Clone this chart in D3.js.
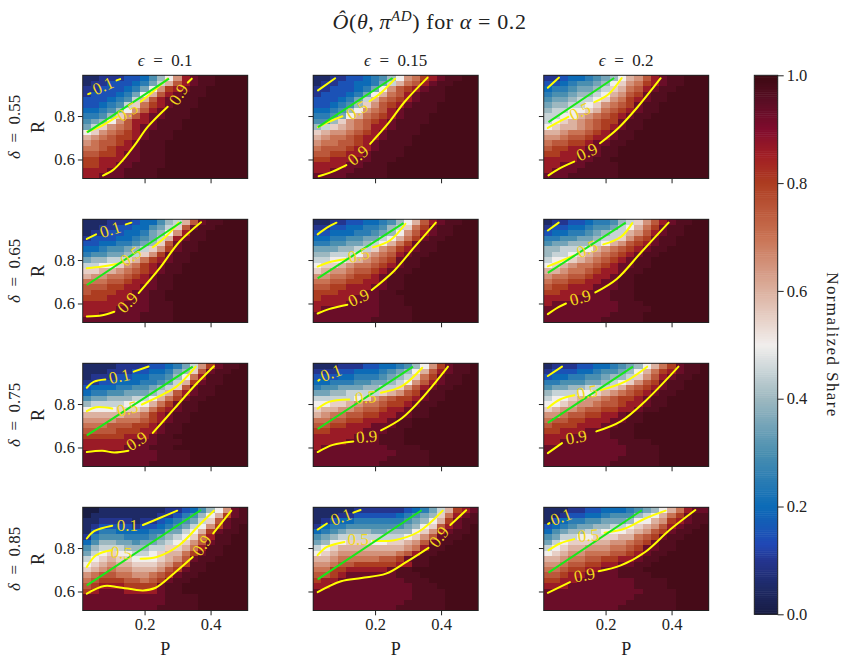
<!DOCTYPE html>
<html>
  <head>
    <meta charset="utf-8">
    <script src="https://d3js.org/d3.v7.min.js" charset="utf-8"></script>
    <style>
      body { margin: 0; background: white; }
      text { font-family: "Liberation Serif", serif; fill: #222; }
      .tick line, .spine { stroke: #222; }
    </style>
  </head>
  <body>
    <svg id="chart" width="848" height="662"></svg>
    <script>
      var pValues = [.025, .05, .075, .1, .125, .15, .175, .2, .225, .25, .275, .3, .325, .35, .375, .4, .425, .45, .475, .5];
      var rValues = [.975, .95, .925, .9, .875, .85, .825, .8, .775, .75, .725, .7, .675, .65, .625, .6, .575, .55, .525];
      var deltas = ["0.55", "0.65", "0.75", "0.85"];
      var epsilons = ["0.1", "0.15", "0.2"];
      var cbarTicks = [0, .2, .4, .6, .8, 1];

      // what each letter of the grids below stands for: 0 = 0, a = 0.5, k = the darkest end
      var shareLevels = [0, .05, .1, .15, .2, .25, .3, .35, .4, .45, .5, .55, .6, .65, .7, .75, .8, .86, .93, .965, .985];

      // share per cell, one letter per cell, top row first
      var shareD55E10 = ["1122233468adhijjkkkk","1223334579cfhijjkkkk","22333457adghijjkkkkk","2333457acfhijjjkkkkk","3334569cfhijjjkkkkkk","334569beghijjjkkkkkk","44568adfhijjjkkkkkkk","5568bdfhiijjjkkkkkkk","678adfhhijjjkkkkkkkk","79bdefhiijjjkkkkkkkk","abdefghijjjkkkkkkkkk","cdefgghijjjkkkkkkkkk","deffghijjjkkkkkkkkkk","eefghhijjjkkkkkkkkkk","ffgghiijjjkkkkkkkkkk","gghhhiijjjkkkkkkkkkk","gghhiijjjjkkkkkkkkkk","hhhiijjjjkkkkkkkkkkk","hhiiijjjjkkkkkkkkkkk"];
      var shareD55E15 = ["1122334568adeghijjkk","1223344579cefhijjkkk","22333457adfghijjkkkk","2333457acefhijjjkkkk","3334579cefghijjjkkkk","334568bdfghijjjkkkkk","44568adefhijjjjkkkkk","5567acefghijjjkkkkkk","668bdefghijjjjkkkkkk","89bcdefhhijjjkkkkkkk","bcddefghijjjjkkkkkkk","cdeefghhijjjkkkkkkkk","deeffghijjjjkkkkkkkk","efffghhijjjkkkkkkkkk","ffgghhijjjjkkkkkkkkk","gghhhiijjjkkkkkkkkkk","hhhhiijjjkkkkkkkkkkk","hhiiijjjjkkkkkkkkkkk","iiiijjjjjkkkkkkkkkkk"];
      var shareD55E20 = ["223445678acdfhijjkkk","33456678abdeghijjkkk","45567789bcefhijjkkkk","5667889acdfgijjkkkkk","677899abdeghijjkkkkk","78899abdefgijjkkkkkk","899aabcefghijjkkkkkk","99aacdefghijjkkkkkkk","9abcdefggijjkkkkkkkk","abccdefghijjkkkkkkkk","ccdeefghijjkkkkkkkkk","ddeffghhijjkkkkkkkkk","effgghiijjkkkkkkkkkk","fgghhiijjkkkkkkkkkkk","gghhiiijjkkkkkkkkkkk","hhhhiijjkkkkkkkkkkkk","hhiiijjjjkkkkkkkkkkk","hiiijjjjjkkkkkkkkkkk","iiijjjjjjkkkkkkkkkkk"];
      var shareD65E10 = ["111222344689cfijjkkk","11223344679bfijjkkkk","1223344578adhjjkkkkk","2333445679chijjkkkkk","334455678bfijjkkkkkk","44566789bdgijjkkkkkk","5667789bdgijjkkkkkkk","78899bceghijjkkkkkkk","99aabdeghijjkkkkkkkk","bbccdefghijjkkkkkkkk","cddeefghijjkkkkkkkkk","eeeffghhijjkkkkkkkkk","fffgghhiijjkkkkkkkkk","fggghhiijjkkkkkkkkkk","ggghhhiijjkkkkkkkkkk","hhhhhiiijjjkkkkkkkkk","hhhhiiiijjjkkkkkkkkk","hhiiiiijjjjkkkkkkkkk","iiiiiiijjjjkkkkkkkkk"];
      var shareD65E15 = ["11223344568acfhijjkk","22334455689begijjkkk","3344455678adfhijjkkk","445566779acegijjkkkk","55667789acegijjkkkkk","7778899bdeghijjkkkkk","88999acdefhijjkkkkkk","99aabcdefgijjkkkkkkk","abbcdeefghijjkkkkkkk","bcddeffghijjkkkkkkkk","ddeefgghijjkkkkkkkkk","eeffgghhijjkkkkkkkkk","ffgghhhiijjkkkkkkkkk","ggghhhiijjkkkkkkkkkk","ghhhhiiijjjkkkkkkkkk","hhhhiiiijjjkkkkkkkkk","hiiiiiiijjjjkkkkkkkk","iiiiiiiijjjjkkkkkkkk","iiiiiiijjjjjkkkkkkkk"];
      var shareD65E20 = ["12233455689bdfhijjkk","2334456679acegijjkkk","3445567899cdfhijjkkk","556677899bdfgijjkkkk","6778889acdfghijjkkkk","88999acdefghijjkkkkk","899abcdefghijjkkkkkk","9aabcdefghijjkkkkkkk","abcdeefghiijjkkkkkkk","ccdeefghhijjkkkkkkkk","deeffghhijjkkkkkkkkk","effgghhiijjkkkkkkkkk","fgghhhiiijjkkkkkkkkk","gghhhiiijjjkkkkkkkkk","hhhhiiiijjjkkkkkkkkk","hiiiiiiiijjjkkkkkkkk","iiiiiiiiijjjjkkkkkkk","iiiiiiiijjjjkkkkkkkk","iiiiiiijjjjjkkkkkkkk"];
      var shareD75E10 = ["11112222334579dgijjk","1112223344578bfijjkk","122233445568aehjjkkk","223344455679cgijjkkk","34445566789bfijjkkkk","4556677789cfhijjkkkk","67788899acegijjkkkkk","89999aaacegijjkkkkkk","aaaabbbceghijjkkkkkk","cccccddeghijjkkkkkkk","ddddeeefghijjkkkkkkk","eeefffgghijjkkkkkkkk","ffffggghhijjkkkkkkkk","ggggghhhijjkkkkkkkkk","hhhhhhiiijjjkkkkkkkk","hhhhhiiijjjkkkkkkkkk","iiiiiiiiijjjjkkkkkkk","iiiiiiiiijjjjkkkkkkk","iiiiiiiijjjjjkkkkkkk"];
      var shareD75E15 = ["1112223344568adgijjk","222334445678acfhijjk","333445556789begijjkk","44555667789adfhijjkk","5667778899bdfhijjkkk","77889999bcdfgijjkkkk","99999abdefgghijjkkkk","aabbcdeefgghijjkkkkk","bccddeffghhijjkkkkkk","cdeeffgghhiijjkkkkkk","eeffgghhhijjkkkkkkkk","ffgghhhiiijjkkkkkkkk","gghhhhiiijjkkkkkkkkk","hhhhhiiijjjkkkkkkkkk","hhhhiiiijjjkkkkkkkkk","hiiiiiiiijjjjkkkkkkk","iiiiiiiiiijjjjkkkkkk","iiiiiiiiijjjjjkkkkkk","iiiiiiiijjjjjjkkkkkk"];
      var shareD75E20 = ["122233445678acegijjk","23334456678aceghijjk","34455667889bdfhijjkk","556667789abdfgijjkkk","67788999bcefghijjkkk","8999aabcdefghijjkkkk","9aabcddefgghijjkkkkk","aabcddeffghhijjkkkkk","bcddeffgghhijjkkkkkk","ddeffgghhijjkkkkkkkk","effgghhhiijjkkkkkkkk","fggghhhiijjkkkkkkkkk","gghhhiiijjjkkkkkkkkk","hhhiiiiijjjkkkkkkkkk","hhiiiiiiijjjjkkkkkkk","iiiiiiiiiijjjjkkkkkk","iiiiiiiiiijjjjkkkkkk","iiiiiiiiijjjjjkkkkkk","iiiiiiiijjjjjjkkkkkk"];
      var shareD85E10 = ["0011111111223468adij","011111111223568acgij","112222122345679bfijj","12333323345679adgijk","1355444455779acgijjk","256665556789abehjjkk","46887767789abdfijjkk","6899988899bbcehjjkkk","79abaa99abccegijjkkk","9abcbbaaabcdfijjkkkk","abcdccbbbcdfgjjkkkkk","bcdeddcccdfgijjkkkkk","deffeeddefgijjkkkkkk","efgggffefgijjkkkkkkk","fghhhggggijjkkkkkkkk","ghiiihhhhijjkkkkkkkk","iiiiiiiiiijjjjkkkkkk","iiiiiiiiiijjjjkkkkkk","iiiiiiiiijjjjjkkkkkk"];
      var shareD85E15 = ["1111122222234579cghi","111223333345678behij","12344555555678acgijj","2455666666678abfhijk","456788877888abdhijjk","67899999999abdfijjkk","78aabbbaabbcdfijjkkk","9abccccccccdehjjkkkk","abcdddddddefhjjkkkkk","ccdeeeeeffgijjkkkkkk","ddeffggggghhjjkkkkkk","eegghhhhhijjkkkkkkkk","ffghiiiiiijjjkkkkkkk","ghhiiiiiiiijjjkkkkkk","hhiiiiiiiiiijjjkkkkk","iiiiiiiiiiiijjjjkkkk","iiiiiiiiiiiijjjjkkkk","iiiiiiiiiiijjjjjkkkk","iiiiiiiiiijjjjjjkkkk"];
      var shareD85E20 = ["11122334445678acehii","1123344566689acegijj","13455667778aacdghijj","3456778899abcdfhijjk","4678899aaabcdfgijjkk","6799aabbbccefgijjkkk","79abbbccddefgijjkkkk","9abccdddeefgiijjkkkk","abcddeeeffghijjkkkkk","ccdeeffgghhijjkkkkkk","ddeffgghhiijjkkkkkkk","eefgghhiijjjkkkkkkkk","ffghhiiiijjjjkkkkkkk","gghhiiiiiiijjjjkkkkk","hhhiiiiiiiijjjjkkkkk","iiiiiiiiiiiijjjjkkkk","iiiiiiiiiiijjjjjkkkk","iiiiiiiiiijjjjjjkkkk","iiiiiiiiijjjjjjjkkkk"];

      // contour pieces as [level, [[P, R], ...]], broken where the inline label sits
      var contoursD55E10 = [
        [.1, [[.029,.901],[.036,.905]]], [.1, [[.115,.964],[.126,.97]]],
        [.5, [[.026,.728],[.07,.755],[.116,.797]]], [.5, [[.188,.866],[.225,.912],[.27,.973]]],
        [.9, [[.074,.526],[.104,.551],[.134,.597],[.17,.666],[.21,.751],[.27,.843]]], [.9, [[.331,.954],[.343,.972]]]];
      var contoursD55E15 = [
        [.1, [[.027,.918],[.079,.974]]],
        [.5, [[.027,.749],[.064,.776],[.101,.799]]], [.5, [[.183,.868],[.22,.91],[.261,.972]]],
        [.9, [[.029,.523],[.069,.543],[.113,.574]]], [.9, [[.185,.672],[.241,.768],[.291,.868],[.359,.977]]]];
      var contoursD55E20 = [
        [.1, [[.025,.93],[.059,.977]]],
        [.5, [[.025,.745],[.052,.768],[.087,.796]]], [.5, [[.166,.864],[.208,.899],[.249,.975]]],
        [.9, [[.027,.527],[.057,.556],[.105,.59]]], [.9, [[.183,.675],[.239,.745],[.299,.845],[.367,.974]]]];
      var contoursD65E10 = [
        [.1, [[.025,.897],[.053,.918]]], [.1, [[.143,.964],[.16,.972]]],
        [.5, [[.025,.762],[.072,.77],[.115,.782],[.133,.79]]], [.5, [[.225,.859],[.268,.913],[.303,.972]]],
        [.9, [[.025,.54],[.072,.546],[.108,.562]]], [.9, [[.182,.648],[.244,.759],[.305,.883],[.371,.974]]]];
      var contoursD65E15 = [
        [.1, [[.026,.918],[.054,.949],[.083,.972]]],
        [.5, [[.026,.77],[.06,.79],[.116,.805]]], [.5, [[.194,.859],[.245,.89],[.292,.967]]],
        [.9, [[.026,.554],[.06,.574],[.116,.594]]], [.9, [[.19,.662],[.258,.751],[.319,.859],[.384,.972]]]];
      var contoursD65E20 = [
        [.1, [[.025,.936],[.058,.972]]],
        [.5, [[.025,.771],[.056,.79],[.105,.821]]], [.5, [[.193,.872],[.246,.906],[.281,.97]]],
        [.9, [[.025,.551],[.056,.582],[.08,.6]]], [.9, [[.169,.651],[.234,.713],[.308,.836],[.391,.972]]]];
      var contoursD75E10 = [
        [.1, [[.025,.875],[.047,.903],[.081,.913]]], [.1, [[.167,.949],[.212,.973]]],
        [.5, [[.025,.767],[.053,.785],[.102,.779]]], [.5, [[.192,.798],[.256,.844],[.299,.883],[.355,.972]]],
        [.9, [[.025,.579],[.072,.585],[.108,.577],[.151,.585]]], [.9, [[.225,.667],[.292,.782],[.355,.89],[.41,.974]]]];
      var contoursD75E15 = [
        [.1, [[.028,.908],[.032,.912]]],
        [.5, [[.026,.779],[.06,.81],[.122,.821]]], [.5, [[.218,.852],[.282,.883],[.343,.967]]],
        [.9, [[.026,.579],[.072,.612],[.134,.628]]], [.9, [[.218,.679],[.282,.736],[.343,.828],[.421,.972]]]];
      var contoursD75E20 = [
        [.1, [[.025,.929],[.068,.972]]],
        [.5, [[.025,.782],[.062,.821],[.105,.84]]], [.5, [[.185,.864],[.259,.903],[.326,.972]]],
        [.9, [[.025,.574],[.068,.62]]], [.9, [[.172,.674],[.246,.72],[.32,.813],[.421,.972]]]];
      var contoursD85E10 = [
        [.1, [[.025,.844],[.047,.878],[.102,.903]]], [.1, [[.195,.906],[.244,.937],[.299,.972]]],
        [.5, [[.025,.713],[.053,.767],[.1,.79]]], [.5, [[.188,.751],[.237,.759],[.305,.813],[.366,.906],[.41,.972]]],
        [.9, [[.025,.59],[.078,.625],[.121,.62],[.195,.605],[.232,.616],[.293,.689],[.346,.759]]], [.9, [[.408,.867],[.463,.972]]]];
      var contoursD85E15 = [
        [.1, [[.026,.885],[.054,.913]]], [.1, [[.134,.963],[.156,.975]]],
        [.5, [[.026,.767],[.054,.805],[.107,.828]]], [.5, [[.194,.833],[.258,.836],[.332,.875],[.405,.972]]],
        [.9, [[.026,.597],[.097,.647],[.159,.662],[.233,.682],[.295,.736],[.362,.801]]], [.9, [[.428,.906],[.476,.974]]]];
      var contoursD85E20 = [
        [.1, [[.026,.911],[.03,.915]]],
        [.5, [[.027,.79],[.062,.821],[.105,.841]]], [.5, [[.197,.87],[.259,.89],[.32,.936],[.382,.972]]],
        [.9, [[.025,.594],[.092,.643]]], [.9, [[.179,.693],[.246,.72],[.32,.782],[.394,.883],[.472,.975]]]];

      // inline labels as [text, P, R]
      var labelsD55E10 = [["0.1",.074,.94],["0.5",.148,.82],["0.9",.302,.90]];
      var labelsD55E15 = [["0.5",.145,.827],["0.9",.148,.62]];
      var labelsD55E20 = [["0.5",.122,.822],["0.9",.143,.636]];
      var labelsD65E10 = [["0.1",.096,.941],["0.5",.158,.818],["0.9",.148,.605]];
      var labelsD65E15 = [["0.5",.15,.824],["0.9",.15,.628]];
      var labelsD65E20 = [["0.5",.144,.852],["0.9",.123,.628]];
      var labelsD75E10 = [["0.1",.124,.929],["0.5",.148,.779],["0.9",.176,.631]];
      var labelsD75E15 = [["0.1",.066,.944],["0.5",.171,.832],["0.9",.174,.651]];
      var labelsD75E20 = [["0.5",.144,.855],["0.9",.111,.648]];
      var labelsD85E10 = [["0.1",.148,.906],["0.5",.13,.779],["0.9",.373,.813]];
      var labelsD85E15 = [["0.1",.097,.944],["0.5",.149,.841],["0.9",.393,.852]];
      var labelsD85E20 = [["0.1",.065,.944],["0.5",.148,.859],["0.9",.136,.677]];

      // green line end points, [[P, R], [P, R]]
      var greenD55 = [[[.026,.725],[.274,.972]], [[.027,.749],[.253,.975]], [[.027,.772],[.226,.975]]];
      var greenD65 = [[[.025,.685],[.312,.975]], [[.026,.716],[.286,.97]], [[.025,.741],[.261,.972]]];
      var greenD75 = [[[.025,.656],[.346,.972]], [[.026,.685],[.315,.972]], [[.025,.713],[.283,.972]]];
      var greenD85 = [[[.025,.628],[.371,.975]], [[.026,.656],[.341,.974]], [[.027,.687],[.31,.974]]];

      var shares = [[shareD55E10, shareD55E15, shareD55E20], [shareD65E10, shareD65E15, shareD65E20],
                    [shareD75E10, shareD75E15, shareD75E20], [shareD85E10, shareD85E15, shareD85E20]];
      var contours = [[contoursD55E10, contoursD55E15, contoursD55E20], [contoursD65E10, contoursD65E15, contoursD65E20],
                      [contoursD75E10, contoursD75E15, contoursD75E20], [contoursD85E10, contoursD85E15, contoursD85E20]];
      var labels = [[labelsD55E10, labelsD55E15, labelsD55E20], [labelsD65E10, labelsD65E15, labelsD65E20],
                    [labelsD75E10, labelsD75E15, labelsD75E20], [labelsD85E10, labelsD85E15, labelsD85E20]];
      var greens = [greenD55, greenD65, greenD75, greenD85];
      // label rotation on screen, degrees
      var labelAngles = [[[-24,-32,-58], [-32,-38], [-25,-25]],
                         [[-18,-36,-46], [-15,-25], [-25,-15]],
                         [[-12,-15,-32], [-20,-5,-5], [-10,-10]],
                         [[0,5,-55], [-20,0,-52], [-20,-5,-10]]];

      var colLeft = [82.7, 313.2, 543.7], rowTop = [75.3, 219.3, 363.3, 507.3];
      var panelW = 165, panelH = 103.2;

      var balance = d3.scaleLinear()
        .domain([0, .05, .1, .13, .2, .3, .4, .5, .6, .7, .8, .85, .9, .95, 1])
        .range(["#181c43","#1e2a66","#24358f","#2148b5","#0c6bb7","#4a8fb0","#9db8c0","#f1eeec","#dcb1a0","#c97354","#ad3d21","#a11f24","#800c2d","#5c0e25","#3c0912"]);

      var svg = d3.select("#chart");
      var xScale = d3.scaleLinear().domain([.0125, .5125]).range([0, panelW]);
      var yScale = d3.scaleLinear().domain([.5125, .9875]).range([panelH, 0]);
      var line = d3.line().x(d => xScale(d[0])).y(d => yScale(d[1])).curve(d3.curveCatmullRom.alpha(.5));
      var cellW = xScale(.0375) - xScale(.0125), cellH = yScale(.5125) - yScale(.5375);

      deltas.forEach(function(delta, i) {
        epsilons.forEach(function(eps, j) {
          var g = svg.append("g").attr("transform", "translate(" + colLeft[j] + "," + rowTop[i] + ")");

          shares[i][j].forEach(function(row, k) {
            g.append("g").selectAll("rect").data(pValues).enter().append("rect")
              .attr("x", d => xScale(d - .0125)).attr("y", yScale(rValues[k] + .0125))
              .attr("width", cellW).attr("height", cellH)
              .attr("shape-rendering", "crispEdges")
              .attr("fill", (d, c) => balance(shareLevels[parseInt(row[c], 21)]));
          });

          g.append("g").selectAll("path").data(contours[i][j]).enter().append("path")
            .attr("fill", "none").attr("stroke", "yellow").attr("stroke-width", 2)
            .attr("stroke-linecap", "round").attr("d", d => line(d[1]));

          g.append("path").attr("fill", "none").attr("stroke", "#18e818").attr("stroke-width", 2)
            .attr("d", d3.line().x(d => xScale(d[0])).y(d => yScale(d[1]))(greens[i][j]));

          g.append("g").selectAll("text").data(labels[i][j]).enter().append("text")
            .attr("transform", (d, n) => "translate(" + xScale(d[1]) + "," + yScale(d[2]) + ") rotate(" + labelAngles[i][j][n] + ")")
            .attr("text-anchor", "middle").attr("dy", "0.35em")
            .attr("font-size", 17).style("fill", "#f2d81c").text(d => d[0]);

          g.append("rect").attr("class", "spine").attr("width", panelW).attr("height", panelH)
            .attr("fill", "none").attr("stroke-width", 1);

          var xAxis = d3.axisBottom(xScale).tickValues([.2, .4]).tickSize(4.8)
            .tickFormat(i == 3 ? d3.format(".1f") : "");
          var yAxis = d3.axisLeft(yScale).tickValues([.6, .8]).tickSize(4.8)
            .tickFormat(j == 0 ? d3.format(".1f") : "");
          var ax = g.append("g").attr("transform", "translate(0," + panelH + ")").call(xAxis);
          var ay = g.append("g").call(yAxis);
          [ax, ay].forEach(function(a) {
            a.select(".domain").remove();
            a.selectAll("text").attr("font-size", 16.5).style("font-family", "Liberation Serif");
          });

          if (i == 0) {
            var t = g.append("text").attr("x", panelW / 2).attr("y", -9.3).attr("text-anchor", "middle").attr("font-size", 17);
            t.append("tspan").attr("font-style", "italic").text("ϵ");
            t.append("tspan").text("\u2002=\u2002" + eps);
          }
          if (i == 3) {
            g.append("text").attr("x", panelW / 2).attr("y", panelH + 45).attr("text-anchor", "middle").attr("font-size", 18).text("P");
          }
          if (j == 0) {
            g.append("text").attr("transform", "translate(-38.5," + panelH / 2 + ") rotate(-90)")
              .attr("text-anchor", "middle").attr("font-size", 18).text("R");
            var dl = g.append("text").attr("transform", "translate(-62.5," + panelH / 2 + ") rotate(-90)")
              .attr("text-anchor", "middle").attr("font-size", 17);
            dl.append("tspan").attr("font-style", "italic").text("δ");
            dl.append("tspan").text("\u2002=\u2002" + delta);
          }
        });
      });

      // colorbar
      var cbarY = d3.scaleLinear().domain([0, 1]).range([614.3, 75.3]);
      var cbar = svg.append("g");
      cbar.selectAll("rect").data(d3.range(256)).enter().append("rect")
        .attr("x", 754.3).attr("width", 23.4)
        .attr("y", d => cbarY((d + 1) / 256)).attr("height", (cbarY(0) - cbarY(1)) / 256 + .5)
        .attr("fill", d => balance((d + .5) / 256));
      cbar.append("rect").attr("class", "spine").attr("x", 754.3).attr("y", 75.3).attr("width", 23.4).attr("height", 539)
        .attr("fill", "none").attr("stroke-width", 1);
      var cax = cbar.append("g").attr("transform", "translate(777.7,0)")
        .call(d3.axisRight(cbarY).tickValues(cbarTicks).tickSize(6).tickFormat(d3.format(".1f")));
      cax.select(".domain").remove();
      cax.selectAll("text").attr("font-size", 16.5).style("font-family", "Liberation Serif");

      svg.append("text").attr("transform", "translate(827,345) rotate(90)")
        .attr("text-anchor", "middle").attr("font-size", 17).attr("letter-spacing", 1.4).text("Normalized Share");

      // title
      var title = svg.append("text").attr("x", 429.5).attr("y", 29).attr("text-anchor", "middle").attr("font-size", 22).attr("letter-spacing", .6);
      title.append("tspan").attr("font-style", "italic").text("Ô");
      title.append("tspan").text("(");
      title.append("tspan").attr("font-style", "italic").text("θ");
      title.append("tspan").text(",\u2009");
      title.append("tspan").attr("font-style", "italic").text("π");
      title.append("tspan").attr("font-style", "italic").attr("font-size", 15).attr("dy", -8).text("AD");
      title.append("tspan").attr("dy", 8).text(") for ");
      title.append("tspan").attr("font-style", "italic").text("α");
      title.append("tspan").text(" = 0.2");
    </script>
  </body>
</html>
